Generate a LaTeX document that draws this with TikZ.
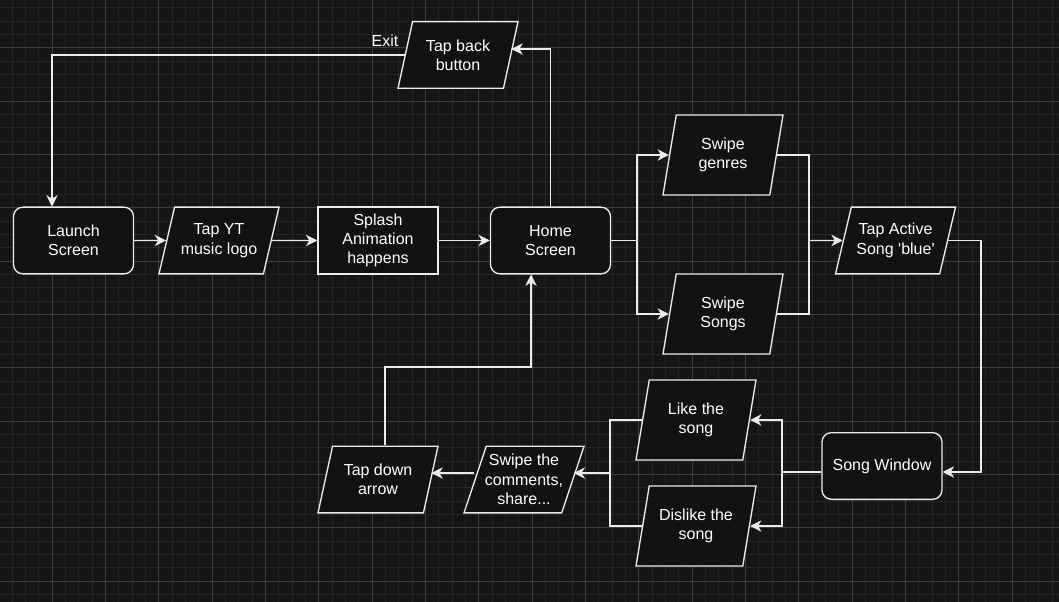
\documentclass[tikz,border=0pt]{standalone}
\usepackage{fontspec}
\setmainfont{Liberation Sans}[Ligatures=TeXOff]
\usepackage{tikz}
\usetikzlibrary{arrows.meta,shapes.geometric}
\definecolor{canvas}{RGB}{21,21,21}
\definecolor{minorgrid}{RGB}{37,37,37}
\definecolor{majorgrid}{RGB}{60,60,60}
\definecolor{boxfill}{RGB}{18,18,18}
\definecolor{wire}{RGB}{236,236,236}

\begin{document}
\begin{tikzpicture}[x=0.75pt, y=-0.75pt,
  every node/.style={font=\fontsize{12}{14.5}\selectfont, text=white, align=center},
  term/.style={draw=wire, fill=boxfill, line width=1pt, rounded corners=7pt,
    minimum width=90pt, minimum height=50pt, inner sep=2pt},
  proc/.style={term, sharp corners},
  io/.style={draw=wire, fill=boxfill, line width=1pt, trapezium,
    trapezium left angle=68.2, trapezium right angle=111.8, trapezium stretches body,
    minimum width=90pt, minimum height=50pt, inner sep=2pt},
  tallio/.style={io, trapezium left angle=71.5, trapezium right angle=108.5, minimum height=60pt},
  line/.style={draw=wire, line width=1pt},
  flow/.style={line, -{Stealth[length=8.5pt,width=8.5pt,inset=2.5pt]}}]

\fill[canvas] (0,0) rectangle (1059,602);
\useasboundingbox (0,0) rectangle (1059,602);
\foreach \k in {0,...,78} \draw[minorgrid, line width=0.75pt] ({12.3+13.333*\k},0) -- ({12.3+13.333*\k},602);
\foreach \k in {0,...,44} \draw[minorgrid, line width=0.75pt] (0,{7.7+13.333*\k}) -- (1059,{7.7+13.333*\k});
\foreach \k in {0,...,18} \draw[majorgrid, line width=0.75pt] ({52.3+53.333*\k},0) -- ({52.3+53.333*\k},602);
\foreach \k in {0,...,10} \draw[majorgrid, line width=0.75pt] (0,{47.7+53.333*\k}) -- (1059,{47.7+53.333*\k});

\draw (73.5,240.5) node (launch)  [term]   {Launch\\Screen};
\draw (219,240.5)  node (tapyt)   [io]     {Tap YT\\music logo};
\draw (378,240.5)  node (splash)  [proc]   {Splash\\Animation\\happens};
\draw (550.5,240.5) node (home)   [term]   {Home\\Screen};
\draw (458,55)     node (tapback) [io]     {Tap back\\button};
\draw (385,41)     node (exit)             {Exit};

\draw (723,155)    node (genres)  [tallio] {Swipe\\genres};
\draw (723,314)    node (songs)   [tallio] {Swipe\\Songs};
\draw (895.5,240.5) node (active) [io]     {Tap Active\\Song 'blue'};
\draw (882,466)    node (songwin) [term]   {Song Window};

\draw (696,420)    node (like)    [tallio] {Like the\\song};
\draw (696,526)    node (dislike) [tallio] {Dislike the\\song};
\draw (524,479.5)  node (comments) [io, inner xsep=-3pt] {Swipe the\\comments,\\share...};
\draw (378,479.5)  node (tapdown) [io]     {Tap down\\arrow};

\coordinate (backturn) at (52,55);
\coordinate (backup)   at (550.5,49);
\coordinate (homesplit) at (637,240.5);
\coordinate (swipejoin) at (809,240.5);
\coordinate (activeturn) at (981,472);
\coordinate (winsplit) at (782,472);
\coordinate (likejoin) at (610,473);
\coordinate (downturn) at (385,367);
\coordinate (hometurn) at (531,367);

\draw[flow] (launch) -- (tapyt);
\draw[flow] (tapyt) -- (splash);
\draw[flow] (splash) -- (home);
\draw[flow] (home.north) -- (backup) -- (backup -| tapback.east);
\draw[flow] (tapback) -| (backturn |- launch.north);

\draw[line] (home) -- (homesplit);
\draw[flow] (homesplit) |- (genres);
\draw[flow] (homesplit) |- (songs);
\draw[line] (genres) -| (swipejoin);
\draw[line] (songs) -| (swipejoin);
\draw[flow] (swipejoin) -- (active);
\draw[flow] (active) -| (activeturn) -- (activeturn -| songwin.east);

\draw[line] (winsplit -| songwin.west) -- (winsplit);
\draw[flow] (winsplit) |- (like);
\draw[flow] (winsplit) |- (dislike);
\draw[line] (like) -| (likejoin);
\draw[line] (dislike) -| (likejoin);
\draw[flow] (likejoin) -- (likejoin -| comments.east);
\draw[flow] (likejoin -| comments.west) -- (likejoin -| tapdown.east);
\draw[flow] (downturn |- tapdown.north) -- (downturn) -- (hometurn) -- (hometurn |- home.south);
\end{tikzpicture}
\end{document}
